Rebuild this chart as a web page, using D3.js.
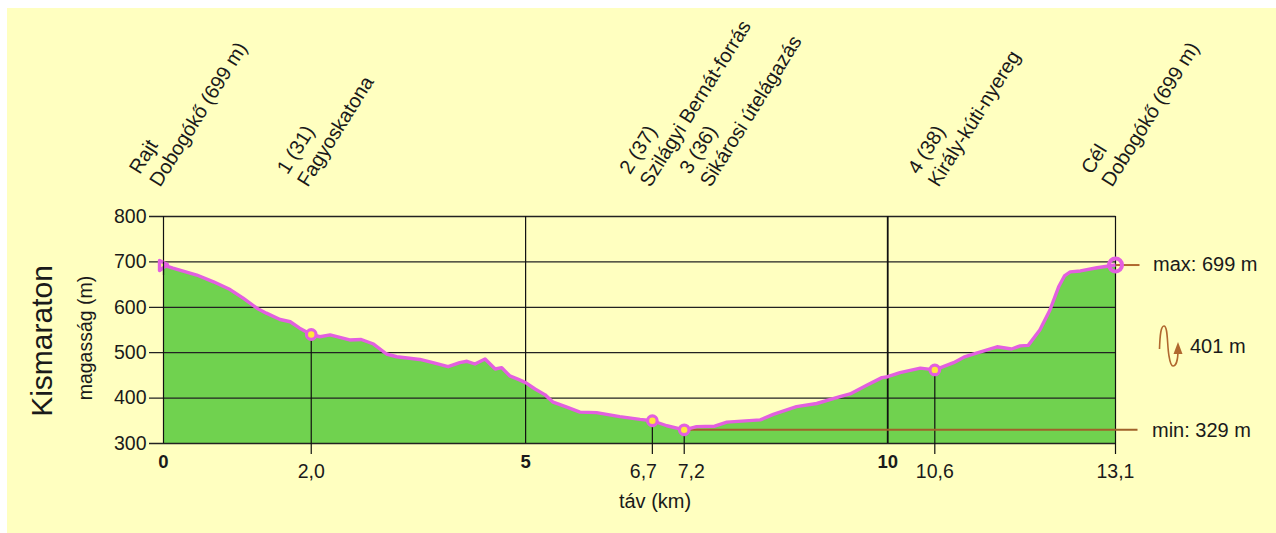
<!DOCTYPE html>
<html>
<head>
<meta charset="utf-8">
<script src="https://cdnjs.cloudflare.com/ajax/libs/d3/7.8.5/d3.min.js"></script>
<style>
  html, body { margin:0; padding:0; background:#fff; }
  svg { display:block; }
  text { font-family:"Liberation Sans", Arial, sans-serif; fill:#1a1a1a; }
</style>
</head>
<body>
<script>
// elevation profile
var profileKm = [0,0.13,0.46,0.69,0.92,1.10,1.29,1.42,1.61,1.75,1.88,2.04,2.16,2.30,2.57,2.73,2.90,3.08,3.22,3.54,3.72,3.93,4.09,4.19,4.30,4.44,4.58,4.67,4.78,4.90,5.0,5.13,5.27,5.38,5.57,5.75,5.98,6.30,6.58,6.75,6.95,7.19,7.36,7.61,7.78,8.24,8.42,8.74,9.02,9.34,9.48,9.71,9.92,10.0,10.17,10.45,10.65,10.91,11.05,11.18,11.51,11.71,11.83,11.94,12.10,12.24,12.36,12.44,12.52,12.66,12.89,13.145];
var profileM = [692,685,670,655,638,619,597,586,572,567,553,539,534,538,527,528,518,496,490,484,477,468,477,480,474,485,463,466,448,440,433,419,406,390,379,368,367,358,352,349,338,329,336,337,346,351,363,380,387,402,408,427,444,446,455,465,461,477,489,496,512,507,514,515,549,593,644,668,677,679,686,692];

var yTicks = [300,400,500,600,700,800];
var xMajorKm = [0,5,10];
var xMajorLabels = ['0','5','10'];

// checkpoints
var stopKm = [2.04,6.75,7.19,10.65];
var stopM = [539,349,329,461];
var stopLabels = ['2,0','6,7','7,2','10,6'];
var finishKm = 13.145;
var finishM = 692;
var finishLabel = '13,1';
var minM = 329;

// slanted names, two lines each
var nameKm = [0,2.04,6.77,7.6,10.75,13.145];
var nameLine1 = ['Rajt','1 (31)','2 (37)','3 (36)','4 (38)','Cél'];
var nameLine2 = ['Dobogókő (699 m)','Fagyoskatona','Szilágyi Bernát-forrás','Sikárosi útelágazás','Király-kúti-nyereg','Dobogókő (699 m)'];

var container_dim = {width:1276, height:533},
    margins = {top:216, left:163.5},
    chart_dim = {width:952, height:227};

var magenta = '#e35fe0', brown = '#b0682f', ink = '#1a1a1a';

var svg = d3.select('body').append('svg')
  .attr('width', container_dim.width)
  .attr('height', container_dim.height);

svg.append('rect')
  .attr('x', 7).attr('y', 8)
  .attr('width', 1269).attr('height', 525)
  .attr('fill', '#ffffc0');

var plot = svg.append('g')
  .attr('transform', 'translate(' + margins.left + ',' + margins.top + ')');

var xScale = d3.scaleLinear().domain([0, finishKm]).range([0, chart_dim.width]);
var yScale = d3.scaleLinear().domain([300, 800]).range([chart_dim.height, 0]);

var profile = profileKm.map(function(d, i) { return {km:d, m:profileM[i]}; });

plot.append('path')
  .datum(profile)
  .attr('fill', '#70d24f')
  .attr('d', d3.area()
    .x(function(d) { return xScale(d.km); })
    .y0(yScale(300))
    .y1(function(d) { return yScale(d.m); }));

// horizontal grid through an axis, ticks stick out to the left
var yAxis = d3.axisLeft(yScale)
  .tickValues(yTicks)
  .tickSize(chart_dim.width + 14.5)
  .tickFormat(d3.format('d'));

var yG = plot.append('g')
  .attr('transform', 'translate(' + chart_dim.width + ',0)')
  .call(yAxis);
yG.select('.domain').remove();
yG.selectAll('.tick line').attr('stroke', '#222').attr('stroke-width', 1.3);
yG.selectAll('.tick text')
  .attr('x', -chart_dim.width - 17)
  .style('font-size', '19.5px')
  .style('font-family', '"Liberation Sans", Arial, sans-serif')
  .attr('fill', ink);

// vertical lines at 0, 5, 10 and the end
plot.selectAll('.major')
  .data(xMajorKm.concat([finishKm]))
  .enter().append('line')
  .attr('class', 'major')
  .attr('x1', function(d) { return xScale(d); })
  .attr('x2', function(d) { return xScale(d); })
  .attr('y1', 0)
  .attr('y2', chart_dim.height)
  .attr('stroke', '#111')
  .attr('stroke-width', function(d) { return d === 10 ? 1.8 : 1.2; });

plot.selectAll('.majorLabel')
  .data(xMajorKm)
  .enter().append('text')
  .attr('class', 'majorLabel')
  .attr('x', function(d) { return xScale(d); })
  .attr('y', chart_dim.height + 25)
  .attr('text-anchor', 'middle')
  .style('font-size', '18.5px')
  .style('font-weight', 'bold')
  .text(function(d, i) { return xMajorLabels[i]; });

// stems under the checkpoints
var stemKm = stopKm.concat([finishKm]);
plot.selectAll('.stem')
  .data(stemKm)
  .enter().append('line')
  .attr('class', 'stem')
  .attr('x1', function(d) { return xScale(d); })
  .attr('x2', function(d) { return xScale(d); })
  .attr('y1', function(d, i) { return i < 4 ? yScale(stopM[i]) : chart_dim.height; })
  .attr('y2', chart_dim.height + 11)
  .attr('stroke', '#111')
  .attr('stroke-width', 1.2);

var labelDx = [0,-9,7,0,0];
plot.selectAll('.stopLabel')
  .data(stopLabels.concat([finishLabel]))
  .enter().append('text')
  .attr('class', 'stopLabel')
  .attr('x', function(d, i) { return xScale(stemKm[i]) + labelDx[i]; })
  .attr('y', chart_dim.height + 35)
  .attr('text-anchor', 'middle')
  .style('font-size', '19.5px')
  .text(function(d) { return d; });

// min and max guides
plot.append('line')
  .attr('x1', xScale(7.19)).attr('x2', chart_dim.width + 22)
  .attr('y1', yScale(minM)).attr('y2', yScale(minM))
  .attr('stroke', '#a0622a').attr('stroke-width', 2);
plot.append('line')
  .attr('x1', chart_dim.width).attr('x2', chart_dim.width + 24)
  .attr('y1', yScale(finishM)).attr('y2', yScale(finishM))
  .attr('stroke', brown).attr('stroke-width', 2);

// profile line
plot.append('path')
  .datum(profile)
  .attr('fill', 'none')
  .attr('stroke', magenta)
  .attr('stroke-width', 3.4)
  .attr('stroke-linejoin', 'round')
  .attr('d', d3.line()
    .x(function(d) { return xScale(d.km); })
    .y(function(d) { return yScale(d.m); }));

// start marker, small open flag
plot.append('path')
  .attr('transform', 'translate(' + xScale(0) + ',' + yScale(692) + ')')
  .attr('d', 'M-4,-4.5 L4,-0.5 L-4,5.5 Z')
  .attr('fill', '#ffff90')
  .attr('stroke', magenta)
  .attr('stroke-width', 3.4)
  .attr('stroke-linejoin', 'round');
plot.append('line')
  .attr('x1', 0).attr('x2', 0)
  .attr('y1', yScale(700)).attr('y2', yScale(670))
  .attr('stroke', '#111').attr('stroke-width', 1.2);

// checkpoint circles
plot.selectAll('.stop')
  .data(stopKm)
  .enter().append('circle')
  .attr('class', 'stop')
  .attr('cx', function(d) { return xScale(d); })
  .attr('cy', function(d, i) { return yScale(stopM[i]); })
  .attr('r', 4.8)
  .attr('fill', '#ffe93c')
  .attr('stroke', magenta)
  .attr('stroke-width', 3.2);

plot.append('circle')
  .attr('cx', xScale(finishKm)).attr('cy', yScale(finishM))
  .attr('r', 6.5)
  .attr('fill', 'none')
  .attr('stroke', magenta)
  .attr('stroke-width', 4);

// slanted names
var nameG = plot.selectAll('.name')
  .data(nameKm)
  .enter().append('g')
  .attr('class', 'name')
  .attr('transform', function(d) { return 'translate(' + (xScale(d) - 3.5) + ',-28) rotate(-58)'; })
  .style('font-size', '20px');
nameG.append('text').attr('x', 0).attr('y', -24)
  .text(function(d, i) { return nameLine1[i]; });
nameG.append('text').attr('x', 0).attr('y', 0)
  .text(function(d, i) { return nameLine2[i]; });

// side texts
svg.append('text').attr('x', 1153).attr('y', 271).style('font-size', '20px').text('max: 699 m');
svg.append('text').attr('x', 1152).attr('y', 437).style('font-size', '20px').text('min: 329 m');
svg.append('text').attr('x', 1190).attr('y', 353).style('font-size', '20px').text('401 m');

// squiggle with arrow next to the total climb
svg.append('path')
  .attr('d', 'M1159.5,349 C1160,334 1161,326 1164,326 C1168,326 1167,345 1169,356 C1170,362 1171,366 1173,366 C1176,366 1178,360 1178,350')
  .attr('fill', 'none')
  .attr('stroke', brown)
  .attr('stroke-width', 1.6);
svg.append('path')
  .attr('d', 'M1178,342 L1182.5,354 L1173.5,354 Z')
  .attr('fill', brown);

svg.append('text').attr('x', 655).attr('y', 508)
  .attr('text-anchor', 'middle').style('font-size', '20px').text('táv (km)');

svg.append('text')
  .attr('transform', 'translate(52,341) rotate(-90)')
  .attr('text-anchor', 'middle')
  .style('font-size', '30px')
  .text('Kismaraton');
svg.append('text')
  .attr('transform', 'translate(92,338) rotate(-90)')
  .attr('text-anchor', 'middle')
  .style('font-size', '19.5px')
  .text('magasság (m)');
</script>
</body>
</html>
